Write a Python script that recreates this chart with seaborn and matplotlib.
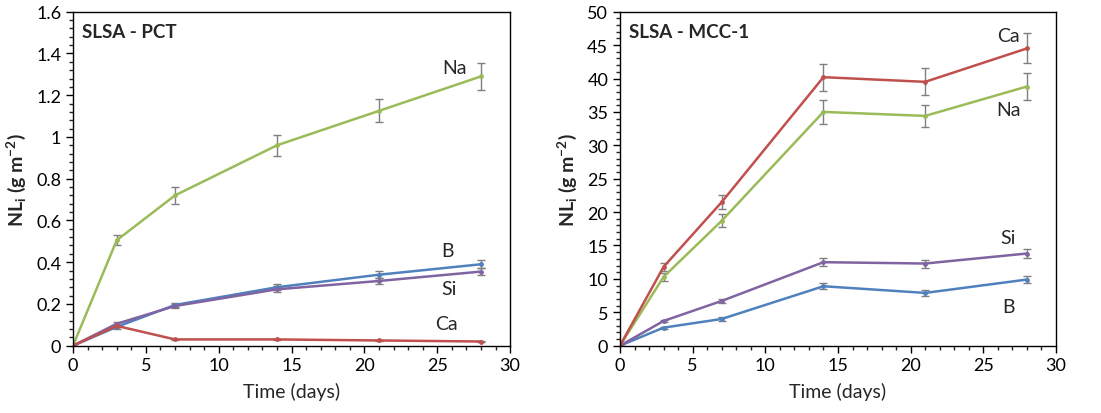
import numpy as np
import pandas as pd
import matplotlib.pyplot as plt
import seaborn as sns
from matplotlib.ticker import MultipleLocator, FuncFormatter

# data
days = [0, 3, 7, 14, 21, 28]
elements = ["Na", "B", "Si", "Ca"]

pct_na = [0, 0.505, 0.72, 0.96, 1.125, 1.29]
pct_na_err = [0, 0.025, 0.04, 0.05, 0.055, 0.065]
pct_b = [0, 0.09, 0.195, 0.28, 0.34, 0.39]
pct_b_err = [0, 0.008, 0.01, 0.015, 0.017, 0.02]
pct_si = [0, 0.105, 0.19, 0.27, 0.31, 0.355]
pct_si_err = [0, 0.008, 0.01, 0.014, 0.016, 0.018]
pct_ca = [0, 0.095, 0.03, 0.03, 0.025, 0.02]
pct_ca_err = [0, 0.004, 0.002, 0.002, 0.002, 0.002]

mcc_na = [0, 10.3, 18.7, 35.0, 34.4, 38.8]
mcc_na_err = [0, 0.6, 1.0, 1.8, 1.7, 1.95]
mcc_b = [0, 2.7, 4.0, 8.9, 7.9, 9.9]
mcc_b_err = [0, 0.15, 0.25, 0.45, 0.4, 0.5]
mcc_si = [0, 3.7, 6.7, 12.5, 12.3, 13.8]
mcc_si_err = [0, 0.2, 0.3, 0.6, 0.6, 0.7]
mcc_ca = [0, 11.8, 21.5, 40.2, 39.5, 44.5]
mcc_ca_err = [0, 0.6, 1.1, 2.0, 2.0, 2.25]

colors = {"Na": "#9BBB59", "B": "#4F81BD", "Si": "#8064A2", "Ca": "#C0504D"}


def build(vals, errs):
    rows = []
    for el in elements:
        for d, v, e in zip(days, vals[el], errs[el]):
            rows.append({"day": d, "nl": v, "err": e, "element": el})
    return pd.DataFrame(rows)


pct = build({"Na": pct_na, "B": pct_b, "Si": pct_si, "Ca": pct_ca},
            {"Na": pct_na_err, "B": pct_b_err, "Si": pct_si_err, "Ca": pct_ca_err})
mcc = build({"Na": mcc_na, "B": mcc_b, "Si": mcc_si, "Ca": mcc_ca},
            {"Na": mcc_na_err, "B": mcc_b_err, "Si": mcc_si_err, "Ca": mcc_ca_err})

sns.set_style("ticks")
plt.rcParams["font.family"] = ["Lato", "DejaVu Sans"]
plt.rcParams["mathtext.fontset"] = "custom"
plt.rcParams["mathtext.rm"] = "Lato"
plt.rcParams["mathtext.bf"] = "Lato:bold"

fig = plt.figure(figsize=(11.01, 4.14), dpi=100)
ax1 = fig.add_axes([0.0663, 0.1626, 0.397, 0.8067])
ax2 = fig.add_axes([0.5631, 0.1626, 0.396, 0.8067])

panels = [
    (ax1, pct, "SLSA - PCT", 1.6, 0.2, 0.04,
     {"Na": (26.2, 1.335), "B": (25.7, 0.454), "Si": (25.8, 0.272), "Ca": (25.6, 0.104)}),
    (ax2, mcc, "SLSA - MCC-1", 50, 5, 1,
     {"Ca": (26.7, 46.4), "Na": (26.7, 35.4), "Si": (26.7, 16.2), "B": (26.7, 5.8)}),
]

for ax, df, title, ymax, ymaj, ymin, labels in panels:
    for el in elements:
        sub = df[df["element"] == el]
        ax.errorbar(sub["day"], sub["nl"], yerr=sub["err"], fmt="none",
                    ecolor="#7f7f7f", elinewidth=1, capsize=3, capthick=1, zorder=1)
    sns.lineplot(data=df, x="day", y="nl", hue="element", palette=colors,
                 marker="o", markersize=3.5, markeredgewidth=0, linewidth=1.8,
                 ax=ax, legend=False, zorder=2)
    ax.set_xlim(0, 30)
    ax.set_ylim(0, ymax)
    ax.xaxis.set_major_locator(MultipleLocator(5))
    ax.xaxis.set_minor_locator(MultipleLocator(1))
    ax.yaxis.set_major_locator(MultipleLocator(ymaj))
    ax.yaxis.set_minor_locator(MultipleLocator(ymin))
    ax.yaxis.set_major_formatter(FuncFormatter(lambda v, _: f"{v:g}"))
    ax.tick_params(which="major", direction="out", length=5, width=1, labelsize=13, colors="#000000")
    ax.tick_params(which="minor", direction="out", length=3, width=1)
    for sp in ax.spines.values():
        sp.set_visible(True)
        sp.set_color("#000000")
        sp.set_linewidth(1)
    ax.set_xlabel("Time (days)", fontsize=14, labelpad=6)
    ax.set_ylabel(r"$\mathbf{NL_i}$ (g m$^{\mathbf{-2}}$)", fontsize=14, fontweight="bold", labelpad=6)
    ax.text(0.02, 0.965, title, transform=ax.transAxes, fontsize=13.5,
            fontweight="bold", ha="left", va="top")
    for el, (lx, ly) in labels.items():
        ax.text(lx, ly, el, fontsize=14, ha="center", va="center")

fig.savefig("out.png", dpi=100)
